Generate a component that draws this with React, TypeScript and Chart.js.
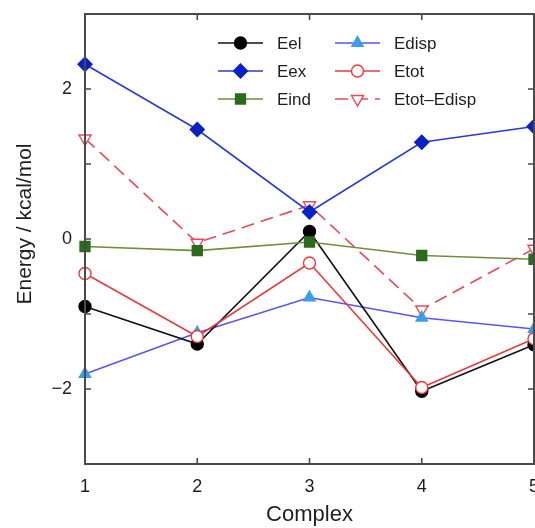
import React, { useEffect, useRef } from "react";
import { Chart, registerables } from "chart.js";

Chart.register(...registerables);

// ---- data ----
const complexes = [1, 2, 3, 4, 5];
const eel = [-0.9, -1.4, 0.1, -2.03, -1.41];
const eex = [2.33, 1.46, 0.36, 1.29, 1.5];
const eind = [-0.1, -0.155, -0.04, -0.22, -0.27];
const edisp = [-1.8, -1.25, -0.78, -1.05, -1.2];
const etot = [-0.46, -1.3, -0.32, -1.98, -1.33];
const etotMinusEdisp = [1.34, -0.05, 0.45, -0.94, -0.13];

const seriesNames = ["Eel", "Eex", "Eind", "Edisp", "Etot", "Etot\u2013Edisp"];
const yTickLabels = [-2, 0, 2];
const xTickLabels = [1, 2, 3, 4, 5];
const yMin = -3;
const yMax = 3;
const yTitle = "Energy / kcal/mol";
const xTitle = "Complex";

const FONT = "'Liberation Sans', Arial, Helvetica, sans-serif";
const TEXT = "#1e1e1e";
const AXIS = "#4a4a4a";

function drawMarker(ctx, style, r, rot, x, y, fill, stroke, lw) {
  ctx.save();
  ctx.setLineDash([]);
  ctx.beginPath();
  if (style === "circle") {
    ctx.arc(x, y, r, 0, Math.PI * 2);
  } else if (style === "rectRot") {
    ctx.moveTo(x, y - r);
    ctx.lineTo(x + r, y);
    ctx.lineTo(x, y + r);
    ctx.lineTo(x - r, y);
    ctx.closePath();
  } else if (style === "rect") {
    const s = r * Math.SQRT1_2;
    ctx.rect(x - s, y - s, 2 * s, 2 * s);
  } else if (style === "triangle") {
    let a = ((rot || 0) * Math.PI) / 180;
    ctx.moveTo(x + Math.sin(a) * r, y - Math.cos(a) * r);
    for (let k = 0; k < 2; k++) {
      a += (2 * Math.PI) / 3;
      ctx.lineTo(x + Math.sin(a) * r, y - Math.cos(a) * r);
    }
    ctx.closePath();
  }
  ctx.fillStyle = fill;
  ctx.fill();
  ctx.lineWidth = lw;
  ctx.strokeStyle = stroke;
  ctx.stroke();
  ctx.restore();
}

const framePlugin = {
  id: "frameTicks",
  afterDraw(chart) {
    const { ctx, chartArea } = chart;
    const { left, right, top, bottom } = chartArea;
    const tl = 6;
    ctx.save();
    ctx.strokeStyle = AXIS;
    ctx.lineWidth = 2;
    ctx.strokeRect(left, top, right - left, bottom - top);
    ctx.lineWidth = 1.6;
    const ys = chart.scales.y;
    ys.ticks.forEach((t) => {
      const py = ys.getPixelForValue(t.value);
      if (Math.abs(py - top) < 1 || Math.abs(py - bottom) < 1) return;
      ctx.beginPath();
      ctx.moveTo(left, py);
      ctx.lineTo(left + tl, py);
      ctx.moveTo(right, py);
      ctx.lineTo(right - tl, py);
      ctx.stroke();
    });
    const xs = chart.scales.x;
    xs.ticks.forEach((t) => {
      const px = xs.getPixelForValue(t.value);
      if (Math.abs(px - left) < 1 || Math.abs(px - right) < 1) return;
      ctx.beginPath();
      ctx.moveTo(px, bottom);
      ctx.lineTo(px, bottom - tl);
      ctx.moveTo(px, top);
      ctx.lineTo(px, top + tl);
      ctx.stroke();
    });
    // y axis title
    ctx.fillStyle = TEXT;
    ctx.font = `21px ${FONT}`;
    ctx.textAlign = "center";
    ctx.textBaseline = "middle";
    ctx.translate(25, (top + bottom) / 2 - 15);
    ctx.rotate(-Math.PI / 2);
    ctx.fillText(yTitle, 0, 0);
    ctx.restore();
  },
};

const legendPlugin = {
  id: "colLegend",
  afterDraw(chart) {
    const { ctx, chartArea } = chart;
    const x0 = chartArea.left + 133;
    const colW = 117;
    const y0 = chartArea.top + 29;
    const rowH = 28;
    const lineLen = 45;
    chart.data.datasets.forEach((ds, i) => {
      const col = Math.floor(i / 3);
      const row = i % 3;
      const lx = x0 + col * colW;
      const ly = y0 + row * rowH;
      ctx.save();
      ctx.strokeStyle = ds.borderColor;
      ctx.lineWidth = ds.borderWidth;
      ctx.setLineDash(ds.borderDash || []);
      ctx.beginPath();
      ctx.moveTo(lx, ly);
      ctx.lineTo(lx + lineLen, ly);
      ctx.stroke();
      ctx.restore();
      drawMarker(
        ctx,
        ds.pointStyle,
        ds.pointRadius,
        ds.pointRotation,
        lx + lineLen / 2,
        ly,
        ds.pointBackgroundColor,
        ds.pointBorderColor,
        ds.pointBorderWidth
      );
      ctx.save();
      ctx.fillStyle = TEXT;
      ctx.font = `17px ${FONT}`;
      ctx.textBaseline = "middle";
      ctx.textAlign = "left";
      ctx.fillText(ds.label, lx + 59, ly + 1);
      ctx.restore();
    });
  },
};

function mk(label, data, color, pointStyle, fill, pointColor, extra = {}) {
  return {
    label,
    data: complexes.map((c, i) => ({ x: c, y: data[i] })),
    borderColor: color,
    borderWidth: 1.6,
    pointStyle,
    pointRadius: 6,
    pointBackgroundColor: fill,
    pointBorderColor: pointColor,
    pointBorderWidth: 1.4,
    pointRotation: 0,
    tension: 0,
    fill: false,
    clip: false,
    ...extra,
  };
}

export default function App() {
  const ref = useRef(null);
  useEffect(() => {
    const canvas = ref.current;
    const datasets = [
      mk(seriesNames[0], eel, "#111111", "circle", "#000000", "#000000", { order: 4 }),
      mk(seriesNames[1], eex, "#2a3bd0", "rectRot", "#0a22c4", "#0a22c4", { pointRadius: 7, order: 2 }),
      mk(seriesNames[2], eind, "#6f8f3a", "rect", "#2c6a1c", "#2c6a1c", { pointRadius: 7, order: 3 }),
      mk(seriesNames[3], edisp, "#5a55ee", "triangle", "#3a9ee6", "#3a9ee6", { pointRadius: 6.5, order: 5 }),
      mk(seriesNames[4], etot, "#e83a3e", "circle", "#ffffff", "#e83a3e", { order: 1 }),
      mk(seriesNames[5], etotMinusEdisp, "#e64a58", "triangle", "#ffffff", "#e64a58", {
        pointRadius: 7,
        pointRotation: 180,
        borderDash: [13, 7],
        order: 6,
      }),
    ];
    const chart = new Chart(canvas, {
      type: "line",
      data: { datasets },
      options: {
        animation: false,
        responsive: false,
        devicePixelRatio: 1,
        layout: { padding: { left: 12, top: 14, right: 26, bottom: 0 } },
        plugins: { legend: { display: false }, tooltip: { enabled: false } },
        scales: {
          x: {
            type: "linear",
            min: 1,
            max: 5,
            afterFit: (s) => {
              s.height = 64;
              s.paddingLeft = 0;
              s.paddingRight = 0;
            },
            grid: { display: false, drawTicks: false },
            border: { display: false },
            ticks: {
              stepSize: 1,
              padding: 12,
              color: TEXT,
              font: { family: FONT, size: 18 },
              callback: (v) => (xTickLabels.includes(v) ? String(v) : ""),
            },
            title: {
              display: true,
              text: xTitle,
              color: TEXT,
              padding: 0,
              font: { family: FONT, size: 22 },
            },
          },
          y: {
            type: "linear",
            min: yMin,
            max: yMax,
            afterFit: (s) => {
              s.width = 73;
              s.paddingTop = 0;
              s.paddingBottom = 0;
            },
            grid: { display: false, drawTicks: false },
            border: { display: false },
            ticks: {
              stepSize: 1,
              padding: 13,
              color: TEXT,
              font: { family: FONT, size: 18 },
              callback: (v) =>
                yTickLabels.includes(v) ? (v < 0 ? "\u2212" + Math.abs(v) : String(v)) : "",
            },
            title: { display: false },
          },
        },
      },
      plugins: [framePlugin, legendPlugin],
    });
    return () => chart.destroy();
  }, []);

  return (
    <div
      style={{
        position: "fixed",
        left: 0,
        top: 0,
        width: 535,
        height: 528,
        overflow: "hidden",
        background: "#ffffff",
      }}
    >
      <canvas ref={ref} width={560} height={528} style={{ display: "block" }} />
    </div>
  );
}
